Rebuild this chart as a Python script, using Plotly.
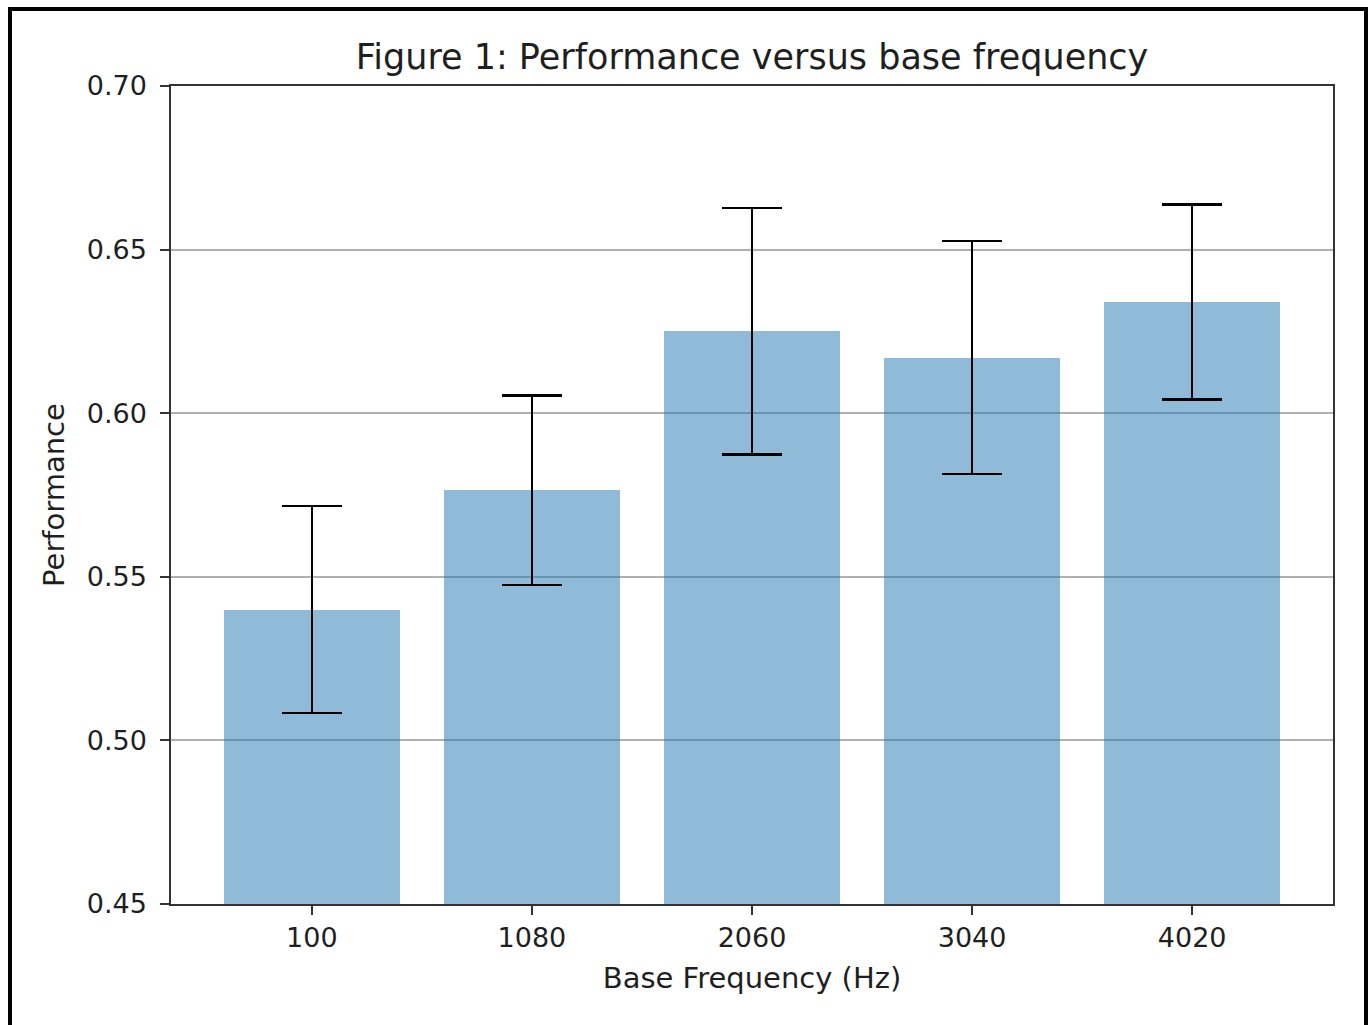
import plotly.graph_objects as go

categories = ["100", "1080", "2060", "3040", "4020"]
performance = [0.540, 0.5765, 0.625, 0.617, 0.634]
errors = [0.0316, 0.029, 0.0377, 0.0356, 0.0298]
y_ticks = [0.45, 0.50, 0.55, 0.60, 0.65, 0.70]
y_tick_labels = ["0.45", "0.50", "0.55", "0.60", "0.65", "0.70"]

FONT = "DejaVu Sans"
TXT = "#1f1f1f"

fig = go.Figure()
fig.add_trace(go.Bar(
    x=list(range(len(categories))),
    y=performance,
    width=0.8,
    marker=dict(color="rgba(31,119,180,0.5)", line=dict(width=0)),
    error_y=dict(type="data", array=errors, visible=True,
                 color="black", thickness=2.6, width=30),
))

fig.update_layout(
    width=1370, height=1025,
    margin=dict(l=171, r=37, t=86, b=121),
    paper_bgcolor="white", plot_bgcolor="white",
    showlegend=False,
    font=dict(family=FONT, color=TXT, size=27),
    title=dict(text="Figure 1: Performance versus base frequency",
               x=0.5, xref="paper", xanchor="center",
               y=1 - 57 / 1025, yref="container", yanchor="middle",
               font=dict(family=FONT, size=35, color=TXT)),
    bargap=0,
)

fig.update_xaxes(
    range=[-0.64, 4.64],
    tickmode="array", tickvals=list(range(len(categories))), ticktext=categories,
    showgrid=False, zeroline=False,
    showline=True, linecolor="#333333", linewidth=1.5, mirror=True,
    ticks="outside", ticklen=9, tickwidth=1.5, tickcolor="#333333",
    tickfont=dict(size=27, family=FONT, color=TXT),
    title=dict(text="Base Frequency (Hz)", font=dict(size=29, family=FONT, color=TXT), standoff=16),
)
fig.update_yaxes(
    range=[0.45, 0.70],
    tickmode="array", tickvals=y_ticks, ticktext=y_tick_labels,
    showgrid=True, gridcolor="#b0b0b0", gridwidth=1.5, zeroline=False,
    showline=True, linecolor="#333333", linewidth=1.5, mirror=True,
    ticks="outside", ticklen=9, tickwidth=1.5, tickcolor="#333333",
    ticklabelstandoff=8,
    tickfont=dict(size=27, family=FONT, color=TXT),
    title=dict(text="Performance", font=dict(size=29, family=FONT, color=TXT), standoff=14),
)

# outer black frame
fig.add_shape(type="rect", xref="paper", yref="paper",
              x0=(10 - 171) / 1162, x1=(1366 - 171) / 1162,
              y0=(904 - 1040) / 818, y1=(904 - 9) / 818,
              line=dict(color="black", width=4), fillcolor="rgba(0,0,0,0)",
              layer="above")

fig.write_html("out.html")
